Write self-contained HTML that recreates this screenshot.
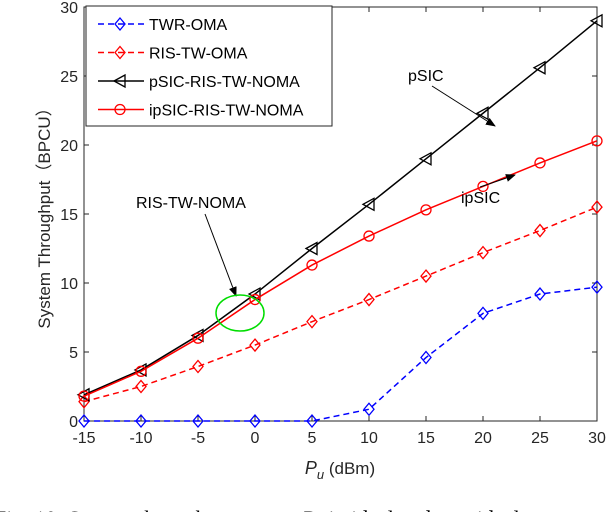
<!DOCTYPE html>
<html><head><meta charset="utf-8"><style>
body{margin:0;background:#fff;width:606px;height:512px;overflow:hidden;position:relative}
svg{position:absolute;left:0;top:0}
text{font-family:"Liberation Sans",Arial,sans-serif}
</style></head><body>
<svg id="chart" width="606" height="512" viewBox="0 0 606 512"></svg>
<script>
const xVals=[-15,-10,-5,0,5,10,15,20,25,30];
const xTicks=[-15,-10,-5,0,5,10,15,20,25,30];
const yTicks=[0,5,10,15,20,25,30];
const twrOma=[0,0,0,0,0,0.85,4.6,7.8,9.2,9.7];
const risTwOma=[1.4,2.5,3.95,5.5,7.2,8.8,10.5,12.2,13.8,15.5];
const psic=[1.9,3.7,6.2,9.2,12.5,15.7,19.0,22.3,25.6,29.0];
const ipsic=[1.8,3.6,6.0,8.8,11.3,13.4,15.3,17.0,18.7,20.3];
const L=84,R=597,T=7,B=421;
const sx=v=>L+(v+15)/45*(R-L);
const sy=v=>B-v/30*(B-T);
const NS="http://www.w3.org/2000/svg";
const svg=document.getElementById('chart');
function mk(tag,attrs,parent){const e=document.createElementNS(NS,tag);for(const k in attrs)e.setAttribute(k,attrs[k]);(parent||svg).appendChild(e);return e;}
let box=mk('rect',{x:L,y:T,width:R-L,height:B-T,fill:'none',stroke:'#262626','stroke-width':1});


xTicks.forEach(t=>{
  mk('line',{x1:sx(t),x2:sx(t),y1:B,y2:B-5,stroke:'#262626'});
  mk('line',{x1:sx(t),x2:sx(t),y1:T,y2:T+5,stroke:'#262626'});
  let tx=mk('text',{x:sx(t),y:B+22,'text-anchor':'middle','font-size':16,fill:'#262626'});
  tx.textContent=t;
  
  
});
yTicks.forEach(t=>{
  mk('line',{x1:L,x2:L+5,y1:sy(t),y2:sy(t),stroke:'#262626'});
  mk('line',{x1:R,x2:R-5,y1:sy(t),y2:sy(t),stroke:'#262626'});
  let tx=mk('text',{x:L-6,y:sy(t)+6,'text-anchor':'end','font-size':16,fill:'#262626'});
  tx.textContent=t;
  
  
});
let xt=mk('text',{x:340,y:474,'text-anchor':'middle','font-size':17,fill:'#262626'});
xt.innerHTML='<tspan font-style="italic" font-size="18">P</tspan><tspan font-style="italic" font-size="13" dy="5">u</tspan><tspan dy="-5"> (dBm)</tspan>';


let yt=mk('text',{x:0,y:0,'text-anchor':'middle','font-size':17,fill:'#262626',transform:'translate(50,214) rotate(-90)'});
yt.textContent='System Throughput（BPCU）';


function marker(g,type,x,y,color){
  if(type==='diamond') mk('polygon',{points:`${x},${y-6} ${x+5},${y} ${x},${y+6} ${x-5},${y}`,fill:'none',stroke:color,'stroke-width':1.3},g);
  else if(type==='tri') mk('polygon',{points:`${x-6},${y} ${x+5},${y-6} ${x+5},${y+6}`,fill:'none',stroke:color,'stroke-width':1.3},g);
  else mk('circle',{cx:x,cy:y,r:5,fill:'none',stroke:color,'stroke-width':1.3},g);
}
function series(name,vals,color,dash,type){
  const g=mk('g',{});
  
  
  mk('polyline',{points:vals.map((v,i)=>sx(xVals[i])+','+sy(v)).join(' '),fill:'none',stroke:color,'stroke-width':1.5,'stroke-dasharray':dash||''},g);
  vals.forEach((v,i)=>marker(g,type,sx(xVals[i]),sy(v),color));
}
series('series-twr-oma',twrOma,'#0000ff','6,4','diamond');
series('series-ris-tw-oma',risTwOma,'#ff0000','6,4','diamond');
series('series-psic',psic,'#000000','','tri');
series('series-ipsic',ipsic,'#ff0000','','circle');
mk('defs',{}).innerHTML='<marker id="ah" markerWidth="10" markerHeight="8" refX="9" refY="4" orient="auto"><path d="M0,0 L10,4 L0,8 z" fill="#000"/></marker>';
function ann(name,label,lx,ly,x1,y1,x2,y2){
  const g=mk('g',{});
  
  
  let t=mk('text',{x:lx,y:ly,'font-size':16,fill:'#000'},g);t.textContent=label;
  mk('line',{x1,y1,x2,y2,stroke:'#000','stroke-width':1,'marker-end':'url(#ah)'},g);
}
ann('psic-annotation','pSIC',408,81,432,86,495,126);
ann('ipsic-annotation','ipSIC',461,203,480,187,515,175);
ann('ris-tw-noma-annotation','RIS-TW-NOMA',136,208,205,214,236,296);
let el=mk('ellipse',{cx:240,cy:313,rx:24,ry:18,fill:'none',stroke:'#00dd00','stroke-width':1.5});


const lg=mk('g',{});


mk('rect',{x:86,y:6,width:246,height:120,fill:'#fff',stroke:'#262626'},lg);
const ent=[['TWR-OMA','#0000ff','6,4','diamond'],['RIS-TW-OMA','#ff0000','6,4','diamond'],['pSIC-RIS-TW-NOMA','#000','','tri'],['ipSIC-RIS-TW-NOMA','#ff0000','','circle']];
ent.forEach((e,i)=>{
  const y=24+i*28.5;
  const g=mk('g',{},lg);
  
  
  mk('line',{x1:98,x2:144,y1:y,y2:y,stroke:e[1],'stroke-width':1.5,'stroke-dasharray':e[2]},g);
  marker(g,e[3],120,y,e[1]);
  let t=mk('text',{x:149,y:y+6,'font-size':16,fill:'#000'},g);t.textContent=e[0];
});
let cap=mk('text',{x:-6,y:526,'font-size':22,fill:'#000'});
cap.setAttribute('style','font-family:"Liberation Serif",serif');
cap.innerHTML='Fig. 10: System throughput versus <tspan font-style="italic">P</tspan><tspan font-size="15" dy="4" font-style="italic">u</tspan><tspan dy="-4"> in ideal and non-ideal</tspan>';


</script>
</body></html>
